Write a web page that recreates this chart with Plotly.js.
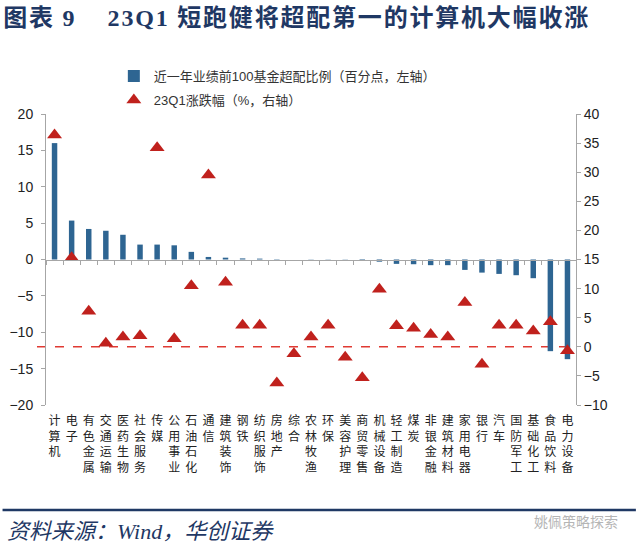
<!DOCTYPE html>
<html>
<head>
<meta charset="utf-8">
<script src="https://cdn.plot.ly/plotly-3.0.1.min.js"></script>
<style>html,body{margin:0;padding:0;background:#fff;}#chart{width:640px;height:551px;}
#chart .gtitle{letter-spacing:1.8px;}</style>
</head>
<body>
<div id="chart"></div>
<script>
const categories = ['计算机','电子','有色金属','交通运输','医药生物','社会服务','传媒','公用事业','石油石化','通信','建筑装饰','钢铁','纺织服饰','房地产','综合','农林牧渔','环保','美容护理','商贸零售','机械设备','轻工制造','煤炭','非银金融','建筑材料','家用电器','银行','汽车','国防军工','基础化工','食品饮料','电力设备'];
const overweight = [16.0, 5.35, 4.2, 3.95, 3.4, 2.05, 2.05, 1.95, 1.05, 0.35, 0.25, 0.15, 0.12, 0.05, 0.0, 0.03, 0.03, -0.03, -0.15, -0.3, -0.6, -0.65, -0.78, -0.78, -1.43, -1.8, -1.98, -2.16, -2.57, -12.6, -13.7];
const change = [36.4, 15.3, 6.1, 0.6, 1.7, 1.9, 34.2, 1.4, 10.5, 29.5, 11.1, 3.7, 3.7, -6.2, -1.2, 1.7, 3.7, -1.8, -5.3, 9.9, 3.6, 3.2, 2.1, 1.7, 7.6, -3.0, 3.7, 3.7, 2.7, 4.3, -0.7];
const tickLabels = categories.map(c => c.split('').join('<br>'));
const barName = '近一年业绩前100基金超配比例（百分点，左轴）';
const markerName = '23Q1涨跌幅（%，右轴）';

const cjk = 'Liberation Sans, Arial, Noto Sans CJK SC, sans-serif';
const axisGray = '#a6a6a6';

const traces = [
  {type:'bar', x: categories, y: overweight, name: barName, xaxis:'x', yaxis:'y',
   marker:{color:'#2e6592'}, legendgroup:'a'},
  {type:'scatter', mode:'markers', x: categories, y: change, name: markerName, xaxis:'x2', yaxis:'y2',
   marker:{symbol:'triangle-up', size:13, color:'#c0211d'}, legendgroup:'b'}
];

const layout = {
  width:640, height:551,
  margin:{l:46, r:64, t:114, b:146},
  paper_bgcolor:'#fff', plot_bgcolor:'rgba(0,0,0,0)',
  bargap:0.68,
  showlegend:true,
  legend:{x:0.128, xanchor:'left', y:1.182, yanchor:'top', font:{size:13, family:cjk, color:'#333'},
          bgcolor:'rgba(0,0,0,0)', tracegroupgap:4, traceorder:'grouped', itemwidth:30},
  title:{text:'<b>图表 9\u00a0\u00a0\u00a0\u00a023Q1 短跑健将超配第一的计算机大幅收涨</b>', x:0.005, xanchor:'left', xref:'container',
         y:0.968, yanchor:'middle', yref:'container',
         font:{size:24, color:'#1f3864', family:'Liberation Serif, Noto Sans CJK SC, serif'}},
  xaxis:{type:'category', categoryorder:'array', categoryarray:categories, range:[-0.5, categories.length-0.5],
         anchor:'free', position:0.5, showline:true, linecolor:axisGray, linewidth:1,
         ticks:'outside', tickson:'boundaries', ticklen:4, tickcolor:axisGray,
         showticklabels:false, showgrid:false, zeroline:false, fixedrange:true},
  xaxis2:{type:'category', categoryorder:'array', categoryarray:categories, range:[-0.5, categories.length-0.5],
          overlaying:'x', anchor:'y2', side:'bottom', showline:false, ticks:'', showgrid:false, zeroline:false,
          tickmode:'array', tickvals:categories, ticktext:tickLabels, tickangle:0, ticklabelstandoff:7,
          tickfont:{size:12, color:'#222', family:'Noto Sans CJK SC, sans-serif'}},
  yaxis:{range:[-20,20], tickvals:[20,15,10,5,0,-5,-10,-15,-20], showline:true, linecolor:axisGray,
         ticks:'outside', ticklen:4, tickcolor:axisGray, showgrid:false, zeroline:false, ticklabelstandoff:5,
         tickfont:{size:14, color:'#222', family:'Liberation Sans, Arial, sans-serif'}},
  yaxis2:{range:[-10,40], tickvals:[40,35,30,25,20,15,10,5,0,-5,-10], overlaying:'y', side:'right', anchor:'x2',
          showline:true, linecolor:axisGray, ticks:'outside', ticklen:4, tickcolor:axisGray,
          showgrid:false, zeroline:false,
          tickfont:{size:14, color:'#222', family:'Liberation Sans, Arial, sans-serif'}},
  shapes:[
    {type:'line', xref:'paper', x0:-0.017, x1:1, yref:'y2', y0:0, y1:0,
     line:{color:'#e03a33', width:1.5, dash:'dash'}, layer:'below'},
    {type:'line', xref:'paper', yref:'paper', x0:-0.082, x1:1.113, y0:-0.361, y1:-0.361,
     line:{color:'#1f3864', width:2.5}}
  ],
  annotations:[
    {text:'<i>资料来源：Wind，华创证券</i>', xref:'paper', yref:'paper', x:-0.078, xanchor:'left',
     y:-0.435, yanchor:'middle', showarrow:false,
     font:{size:22, color:'#1f3864', family:'Liberation Serif, Noto Sans CJK SC, serif'}},
    {text:'姚佩策略探索', xref:'paper', yref:'paper', x:1.083, xanchor:'right',
     y:-0.399, yanchor:'middle', showarrow:false,
     font:{size:14, color:'#b5b5b5', family:'Noto Sans CJK SC, sans-serif'}}
  ]
};

Plotly.newPlot('chart', traces, layout, {staticPlot:true, displayModeBar:false});
</script>
</body>
</html>
